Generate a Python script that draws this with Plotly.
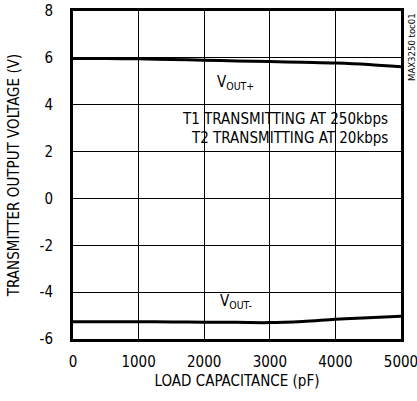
import plotly.graph_objects as go

x_cap = [0, 500, 1000, 1500, 2000, 2500, 3000, 3500, 4000, 4500, 5000]
vout_pos = [5.97, 5.97, 5.96, 5.93, 5.90, 5.87, 5.84, 5.81, 5.78, 5.72, 5.62]
vout_neg = [-5.26, -5.26, -5.26, -5.27, -5.28, -5.29, -5.30, -5.25, -5.16, -5.09, -5.03]

x_ticks = [0, 1000, 2000, 3000, 4000, 5000]
y_ticks = [-6, -4, -2, 0, 2, 4, 6, 8]
y_labels = ["-6", "-4", "-2", "0", "2", "4", "6", "8"]

FONT = "DejaVu Sans Condensed, Liberation Sans Narrow, Arial Narrow, Liberation Sans"

fig = go.Figure()
fig.add_trace(go.Scatter(x=x_cap, y=vout_pos, mode="lines", line=dict(color="black", width=3, shape="spline"), showlegend=False))
fig.add_trace(go.Scatter(x=x_cap, y=vout_neg, mode="lines", line=dict(color="black", width=3, shape="spline"), showlegend=False))

fig.add_annotation(x=2480, y=4.95, text="V<sub>OUT+</sub>", showarrow=False, font=dict(size=15, color="black", family=FONT))
fig.add_annotation(x=2480, y=-4.42, text="V<sub>OUT-</sub>", showarrow=False, font=dict(size=15, color="black", family=FONT))
fig.add_annotation(x=4830, y=3.41, text="T1 TRANSMITTING AT 250kbps", showarrow=False, xanchor="right", font=dict(size=15, color="black", family=FONT))
fig.add_annotation(x=4830, y=2.58, text="T2 TRANSMITTING AT 20kbps", showarrow=False, xanchor="right", font=dict(size=15, color="black", family=FONT))
fig.add_annotation(xref="paper", yref="paper", x=1.0, y=1.0, xshift=10, text="MAX3250 toc01", textangle=-90, showarrow=False, xanchor="center", yanchor="top", font=dict(size=9.5, color="black", family=FONT))

fig.update_layout(
    width=417, height=401,
    margin=dict(l=73, r=16, t=11, b=62),
    paper_bgcolor="white", plot_bgcolor="white",
    font=dict(family=FONT, size=15, color="black"),
)
fig.update_xaxes(range=[0, 5000], tickvals=x_ticks, showgrid=True, gridcolor="black", gridwidth=1,
                 showline=True, linecolor="black", linewidth=3, mirror=True, zeroline=False,
                 ticks="", ticklabelstandoff=7, automargin=False, ticklabeloverflow="allow",
                 title=dict(text="LOAD CAPACITANCE (pF)", standoff=6, font=dict(size=15)))
fig.update_yaxes(range=[-6, 8], tickvals=y_ticks, ticktext=y_labels, showgrid=True, gridcolor="black", gridwidth=1,
                 showline=True, linecolor="black", linewidth=3, mirror=True, zeroline=False,
                 ticks="", ticklabelstandoff=14, automargin=False, ticklabeloverflow="allow",
                 title=dict(text="TRANSMITTER OUTPUT VOLTAGE (V)", standoff=17, font=dict(size=15)))

fig.write_html("out.html", config={"displayModeBar": False},
               post_script="document.body.style.margin='0px';document.body.style.overflow='hidden';")
